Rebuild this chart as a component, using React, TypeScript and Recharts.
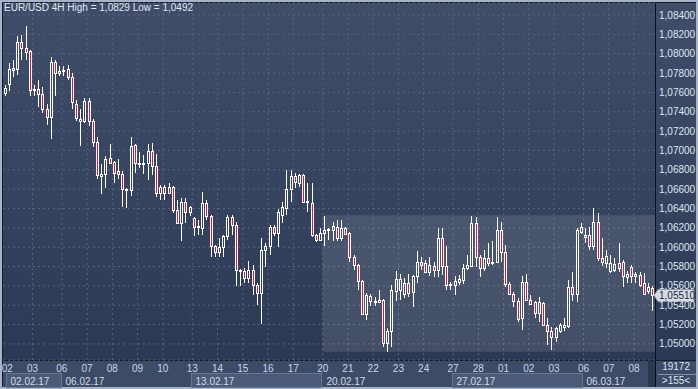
import React from 'react';
import { ComposedChart, Bar, XAxis, YAxis, CartesianGrid, ReferenceArea, ReferenceLine } from 'recharts';

// EUR/USD 4H candles, 01.02.17 (last bar) .. 08.03.17
const opens = [
    1.0759, 1.0769, 1.0783, 1.0784, 1.0812, 1.0806, 1.0803, 1.0762, 1.0763, 1.0758,
    1.0743, 1.0735, 1.0791, 1.0780, 1.0782, 1.0784, 1.0776, 1.0748, 1.0733, 1.0730,
    1.0751, 1.0730, 1.0709, 1.0674, 1.0676, 1.0692, 1.0688, 1.0679, 1.0676, 1.0659,
    1.0659, 1.0706, 1.0687, 1.0686, 1.0687, 1.0699, 1.0684, 1.0656, 1.0662, 1.0656,
    1.0662, 1.0638, 1.0625, 1.0647, 1.0636, 1.0630, 1.0621, 1.0620, 1.0646, 1.0632,
    1.0601, 1.0595, 1.0600, 1.0612, 1.0631, 1.0623, 1.0576, 1.0575, 1.0568, 1.0576,
    1.0561, 1.0553, 1.0597, 1.0601, 1.0621, 1.0615, 1.0633, 1.0640, 1.0660, 1.0674,
    1.0666, 1.0675, 1.0647, 1.0646, 1.0613, 1.0607, 1.0615, 1.0618, 1.0618, 1.0621,
    1.0610, 1.0620, 1.0615, 1.0590, 1.0582, 1.0565, 1.0531, 1.0550, 1.0544, 1.0543,
    1.0545, 1.0501, 1.0513, 1.0555, 1.0556, 1.0552, 1.0563, 1.0554, 1.0570, 1.0582,
    1.0584, 1.0574, 1.0581, 1.0576, 1.0610, 1.0581, 1.0561, 1.0561, 1.0564, 1.0566,
    1.0579, 1.0581, 1.0625, 1.0590, 1.0579, 1.0589, 1.0584, 1.0585, 1.0618, 1.0595,
    1.0562, 1.0552, 1.0544, 1.0527, 1.0564, 1.0545, 1.0543, 1.0532, 1.0542, 1.0520,
    1.0513, 1.0507, 1.0513, 1.0518, 1.0519, 1.0559, 1.0552, 1.0616, 1.0611, 1.0613,
    1.0601, 1.0626, 1.0589, 1.0584, 1.0575, 1.0576, 1.0584, 1.0585, 1.0569, 1.0580,
    1.0570, 1.0571, 1.0563, 1.0555, 1.0558,
];
const highs = [
    1.0768, 1.0790, 1.0794, 1.0818, 1.0819, 1.0829, 1.0804, 1.0768, 1.0773, 1.0766,
    1.0748, 1.0797, 1.0793, 1.0787, 1.0787, 1.0788, 1.0780, 1.0752, 1.0743, 1.0754,
    1.0754, 1.0733, 1.0714, 1.0686, 1.0694, 1.0707, 1.0689, 1.0691, 1.0679, 1.0661,
    1.0714, 1.0707, 1.0698, 1.0695, 1.0707, 1.0708, 1.0696, 1.0664, 1.0664, 1.0666,
    1.0663, 1.0649, 1.0651, 1.0651, 1.0643, 1.0631, 1.0628, 1.0657, 1.0649, 1.0633,
    1.0602, 1.0609, 1.0613, 1.0633, 1.0633, 1.0626, 1.0577, 1.0579, 1.0586, 1.0582,
    1.0563, 1.0609, 1.0604, 1.0623, 1.0623, 1.0639, 1.0647, 1.0680, 1.0680, 1.0677,
    1.0676, 1.0676, 1.0666, 1.0666, 1.0614, 1.0620, 1.0632, 1.0620, 1.0626, 1.0628,
    1.0628, 1.0621, 1.0616, 1.0592, 1.0583, 1.0566, 1.0553, 1.0552, 1.0549, 1.0556,
    1.0546, 1.0516, 1.0561, 1.0575, 1.0572, 1.0568, 1.0572, 1.0571, 1.0596, 1.0590,
    1.0587, 1.0590, 1.0585, 1.0620, 1.0620, 1.0601, 1.0564, 1.0570, 1.0571, 1.0583,
    1.0592, 1.0632, 1.0631, 1.0592, 1.0597, 1.0604, 1.0606, 1.0631, 1.0626, 1.0602,
    1.0564, 1.0554, 1.0547, 1.0570, 1.0572, 1.0551, 1.0544, 1.0549, 1.0543, 1.0527,
    1.0517, 1.0517, 1.0522, 1.0527, 1.0566, 1.0574, 1.0620, 1.0625, 1.0620, 1.0621,
    1.0641, 1.0635, 1.0609, 1.0597, 1.0592, 1.0589, 1.0604, 1.0587, 1.0575, 1.0582,
    1.0574, 1.0574, 1.0573, 1.0563, 1.0560,
];
const lows = [
    1.0756, 1.0761, 1.0776, 1.0778, 1.0794, 1.0794, 1.0756, 1.0756, 1.0745, 1.0739,
    1.0726, 1.0712, 1.0756, 1.0777, 1.0777, 1.0773, 1.0743, 1.0730, 1.0705, 1.0728,
    1.0725, 1.0704, 1.0670, 1.0655, 1.0661, 1.0686, 1.0666, 1.0670, 1.0642, 1.0640,
    1.0653, 1.0677, 1.0682, 1.0676, 1.0669, 1.0675, 1.0652, 1.0649, 1.0649, 1.0655,
    1.0635, 1.0624, 1.0606, 1.0625, 1.0632, 1.0612, 1.0613, 1.0613, 1.0628, 1.0590,
    1.0590, 1.0590, 1.0590, 1.0607, 1.0613, 1.0560, 1.0560, 1.0563, 1.0563, 1.0551,
    1.0540, 1.0521, 1.0580, 1.0592, 1.0612, 1.0600, 1.0625, 1.0633, 1.0647, 1.0661,
    1.0662, 1.0646, 1.0636, 1.0611, 1.0605, 1.0606, 1.0601, 1.0607, 1.0606, 1.0606,
    1.0606, 1.0613, 1.0585, 1.0576, 1.0556, 1.0530, 1.0525, 1.0539, 1.0539, 1.0542,
    1.0497, 1.0492, 1.0497, 1.0544, 1.0545, 1.0548, 1.0549, 1.0538, 1.0563, 1.0576,
    1.0573, 1.0570, 1.0569, 1.0569, 1.0571, 1.0556, 1.0556, 1.0551, 1.0561, 1.0562,
    1.0576, 1.0580, 1.0580, 1.0569, 1.0575, 1.0581, 1.0582, 1.0584, 1.0585, 1.0559,
    1.0551, 1.0538, 1.0523, 1.0514, 1.0544, 1.0540, 1.0527, 1.0523, 1.0519, 1.0499,
    1.0494, 1.0502, 1.0511, 1.0513, 1.0516, 1.0544, 1.0543, 1.0614, 1.0604, 1.0597,
    1.0597, 1.0586, 1.0581, 1.0578, 1.0573, 1.0574, 1.0574, 1.0559, 1.0563, 1.0563,
    1.0563, 1.0559, 1.0551, 1.0552, 1.0534,
];
const closes = [
    1.0765, 1.0784, 1.0785, 1.0812, 1.0806, 1.0802, 1.0762, 1.0764, 1.0758, 1.0743,
    1.0735, 1.0791, 1.0780, 1.0782, 1.0783, 1.0776, 1.0750, 1.0734, 1.0730, 1.0751,
    1.0730, 1.0709, 1.0675, 1.0676, 1.0691, 1.0687, 1.0677, 1.0676, 1.0660, 1.0660,
    1.0705, 1.0687, 1.0686, 1.0687, 1.0699, 1.0684, 1.0656, 1.0662, 1.0656, 1.0662,
    1.0638, 1.0625, 1.0647, 1.0636, 1.0642, 1.0621, 1.0622, 1.0646, 1.0632, 1.0601,
    1.0595, 1.0600, 1.0612, 1.0631, 1.0623, 1.0576, 1.0575, 1.0568, 1.0576, 1.0561,
    1.0553, 1.0597, 1.0601, 1.0621, 1.0615, 1.0636, 1.0642, 1.0660, 1.0674, 1.0667,
    1.0675, 1.0647, 1.0648, 1.0613, 1.0607, 1.0615, 1.0618, 1.0619, 1.0622, 1.0609,
    1.0620, 1.0614, 1.0590, 1.0582, 1.0565, 1.0531, 1.0551, 1.0544, 1.0543, 1.0545,
    1.0501, 1.0513, 1.0556, 1.0567, 1.0567, 1.0563, 1.0553, 1.0570, 1.0585, 1.0585,
    1.0574, 1.0582, 1.0576, 1.0609, 1.0581, 1.0561, 1.0562, 1.0565, 1.0567, 1.0579,
    1.0582, 1.0625, 1.0590, 1.0579, 1.0589, 1.0584, 1.0585, 1.0618, 1.0595, 1.0562,
    1.0552, 1.0544, 1.0526, 1.0564, 1.0545, 1.0541, 1.0532, 1.0543, 1.0520, 1.0513,
    1.0507, 1.0516, 1.0520, 1.0520, 1.0559, 1.0552, 1.0618, 1.0621, 1.0613, 1.0601,
    1.0626, 1.0589, 1.0585, 1.0591, 1.0584, 1.0583, 1.0578, 1.0570, 1.0572, 1.0570,
    1.0572, 1.0561, 1.0552, 1.0559, 1.0551,
];

// first bar of each trading day
const dayTicks = [1, 7, 14, 20, 26, 32, 38, 45, 51, 57, 63, 69, 76, 82, 88, 94, 100, 107, 113, 119, 125, 131, 138, 144, 150];
const dayLabels = ['02', '03', '06', '07', '08', '09', '10', '13', '14', '15', '16', '17', '20', '21', '22', '23', '24', '27', '28', '01', '02', '03', '06', '07', '08'];
const weekStarts = [1, 14, 45, 76, 107, 138];
const weekLabels = ['02.02.17', '06.02.17', '13.02.17', '20.02.17', '27.02.17', '06.03.17'];
const priceTicks = [1.05, 1.052, 1.054, 1.056, 1.058, 1.06, 1.062, 1.064, 1.066, 1.068, 1.07, 1.072, 1.074, 1.076, 1.078, 1.08, 1.082, 1.084];

const lastPrice = 1.0551;
const boxStart = 76;
const boxHigh = 1.0633;
const boxLow = 1.0492;

const W = 698;
const H = 389;
const AXIS_W = 43;
const N = opens.length;
const BAND = (W - 3 - AXIS_W) / N;
const FONT = '"Liberation Sans", Arial, Helvetica, sans-serif';

const data = opens.map((o, i) => ({ i, o, h: highs[i], l: lows[i], c: closes[i] }));

const Candle = (props: any) => {
    const { x, y, width, height, payload } = props;
    if (!payload || !Number.isFinite(y) || !Number.isFinite(x)) return null;
    const { o, h, l, c } = payload;
    const span = h - l || 1e-9;
    const toY = (v: number) => y + ((h - v) / span) * height;
    const cx = Math.floor(x + width / 2) + 0.5;
    const up = c >= o;
    const top = Math.round(toY(Math.max(o, c)));
    let bot = Math.round(toY(Math.min(o, c)));
    if (bot - top < 1) bot = top + 1;
    const hi = Math.round(toY(h));
    const lo = Math.round(toY(l));
    return (
        <g shapeRendering="crispEdges">
            {hi < top && <line x1={cx} x2={cx} y1={hi} y2={top} stroke="#ffffff" />}
            {lo > bot + 1 && <line x1={cx} x2={cx} y1={bot + 1} y2={lo} stroke="#ffffff" />}
            <rect x={cx - 1} y={top + 0.5} width={2} height={bot - top} fill={up ? 'none' : '#e3123b'} stroke="#ffffff" />
        </g>
    );
};

const DayTick = (props: any) => {
    const { x, y, payload } = props;
    const k = dayTicks.indexOf(payload.value);
    const left = x - BAND / 2;
    const w = weekStarts.indexOf(payload.value);
    let box = null;
    if (w >= 0) {
        const next = w + 1 < weekStarts.length ? weekStarts[w + 1] : N;
        const bw = Math.round((next - payload.value) * BAND);
        const bx = Math.round(left) - 0.5;
        box = (
            <g>
                {w % 2 === 0 && (
                    <rect x={bx} y={y + 13.5} width={bw} height={14} fill="#4b5a76" stroke="#687791" shapeRendering="crispEdges" />
                )}
                <text x={bx + 4} y={y + 24.5} fill="#d3dbe8" fontSize={10} fontFamily={FONT}>{weekLabels[w]}</text>
            </g>
        );
    }
    return (
        <g>
            {box}
            <text x={left} y={y + 12} textAnchor="middle" fill="#c8d5ea" fontSize={10} fontFamily={FONT}>{dayLabels[k]}</text>
        </g>
    );
};

const PriceTag = (props: any) => {
    const vb = props.viewBox;
    if (!vb) return null;
    const x = vb.x + vb.width;
    const y = Math.round(vb.y) + 0.5;
    return (
        <g>
            <polygon
                points={`${x - 1},${y} ${x + 3},${y - 6} ${x + 39},${y - 6} ${x + 39},${y + 6} ${x + 3},${y + 6}`}
                fill="#d6dce6"
                stroke="#8a95a9"
            />
            <text x={x + 4} y={y + 3.5} fill="#1d2638" fontSize={10} fontFamily={FONT}>
                {lastPrice.toFixed(5).replace('.', ',')}
            </text>
        </g>
    );
};

const abs = (s: React.CSSProperties): React.CSSProperties => ({ position: 'absolute', ...s });

const App: React.FC = () => {
    return (
        <div style={{ position: 'fixed', left: 0, top: 0, width: W, height: H, background: '#a8b3c7', overflow: 'hidden', fontFamily: FONT }}>
            <div style={abs({ left: 2, top: 2, width: W - 4, height: H - 4, background: '#151d2b' })} />
            <div style={abs({ left: 3, top: 3, width: W - 5, height: 357, background: 'linear-gradient(#3f4d69, #36445f 50%, #2c3954)' })} />
            <div style={abs({ left: 3, top: 361, width: W - 5, height: 26, background: '#3c4b66' })} />
            <div style={abs({ left: 648, top: 361, width: 7, height: 26, background: '#2b384f' })} />
            <div style={abs({ left: 655, top: 3, width: 1, height: 384, background: '#0b111c' })} />

            <div style={abs({ left: 0, top: 0 })}>
                <ComposedChart width={W} height={H} data={data} margin={{ top: 3, right: 0, bottom: 0, left: 3 }} barCategoryGap={0}>
                    <CartesianGrid
                        stroke="#56647f"
                        strokeDasharray="2 3"
                        verticalCoordinatesGenerator={(p: any) => {
                            const s = p && p.xAxis && p.xAxis.scale;
                            return dayTicks.slice(1).map((k) => {
                                if (typeof s === 'function') {
                                    const v = s(k);
                                    if (Number.isFinite(v)) return v;
                                }
                                return p.offset.left + k * (p.offset.width / N);
                            });
                        }}
                    />
                    <ReferenceArea x1={boxStart} x2={N - 1} y1={boxLow} y2={boxHigh} fill="#ffffff" fillOpacity={0.11} stroke="none" ifOverflow="visible" />
                    <XAxis
                        dataKey="i"
                        type="category"
                        ticks={dayTicks}
                        interval={0}
                        tick={<DayTick />}
                        tickLine={false}
                        tickSize={0}
                        tickMargin={0}
                        axisLine={false}
                        height={29}
                    />
                    <YAxis
                        orientation="right"
                        type="number"
                        domain={[1.04834, 1.08524]}
                        allowDataOverflow
                        ticks={priceTicks}
                        interval={0}
                        width={AXIS_W}
                        tickLine={false}
                        tickSize={0}
                        tickMargin={4}
                        axisLine={false}
                        tick={{ fill: '#dfe6f1', fontSize: 10, fontFamily: FONT }}
                        tickFormatter={(v: number) => v.toFixed(5).replace('.', ',')}
                    />
                    <Bar dataKey={(d: any) => [d.l, d.h]} shape={(p: any) => <Candle {...p} />} isAnimationActive={false} />
                    <ReferenceLine y={lastPrice} stroke="none" ifOverflow="visible" label={<PriceTag />} />
                </ComposedChart>
            </div>

            <div style={abs({ left: 4, top: 2, fontSize: 10, lineHeight: '12px', color: '#e1e7f0', whiteSpace: 'nowrap' })}>
                EUR/USD 4H High = 1,0829 Low = 1,0492
            </div>
            <div style={abs({ left: 658, top: 374, width: 38, height: 1, background: '#8390a6' })} />
            <div style={abs({ left: 656, top: 361, width: 34, fontSize: 10, lineHeight: '12px', color: '#dfe6f1', textAlign: 'right' })}>19172</div>
            <div style={abs({ left: 656, top: 375, width: 40, fontSize: 10, lineHeight: '12px', color: '#dfe6f1', textAlign: 'center' })}>&gt;155&lt;</div>
        </div>
    );
};

export default App;
